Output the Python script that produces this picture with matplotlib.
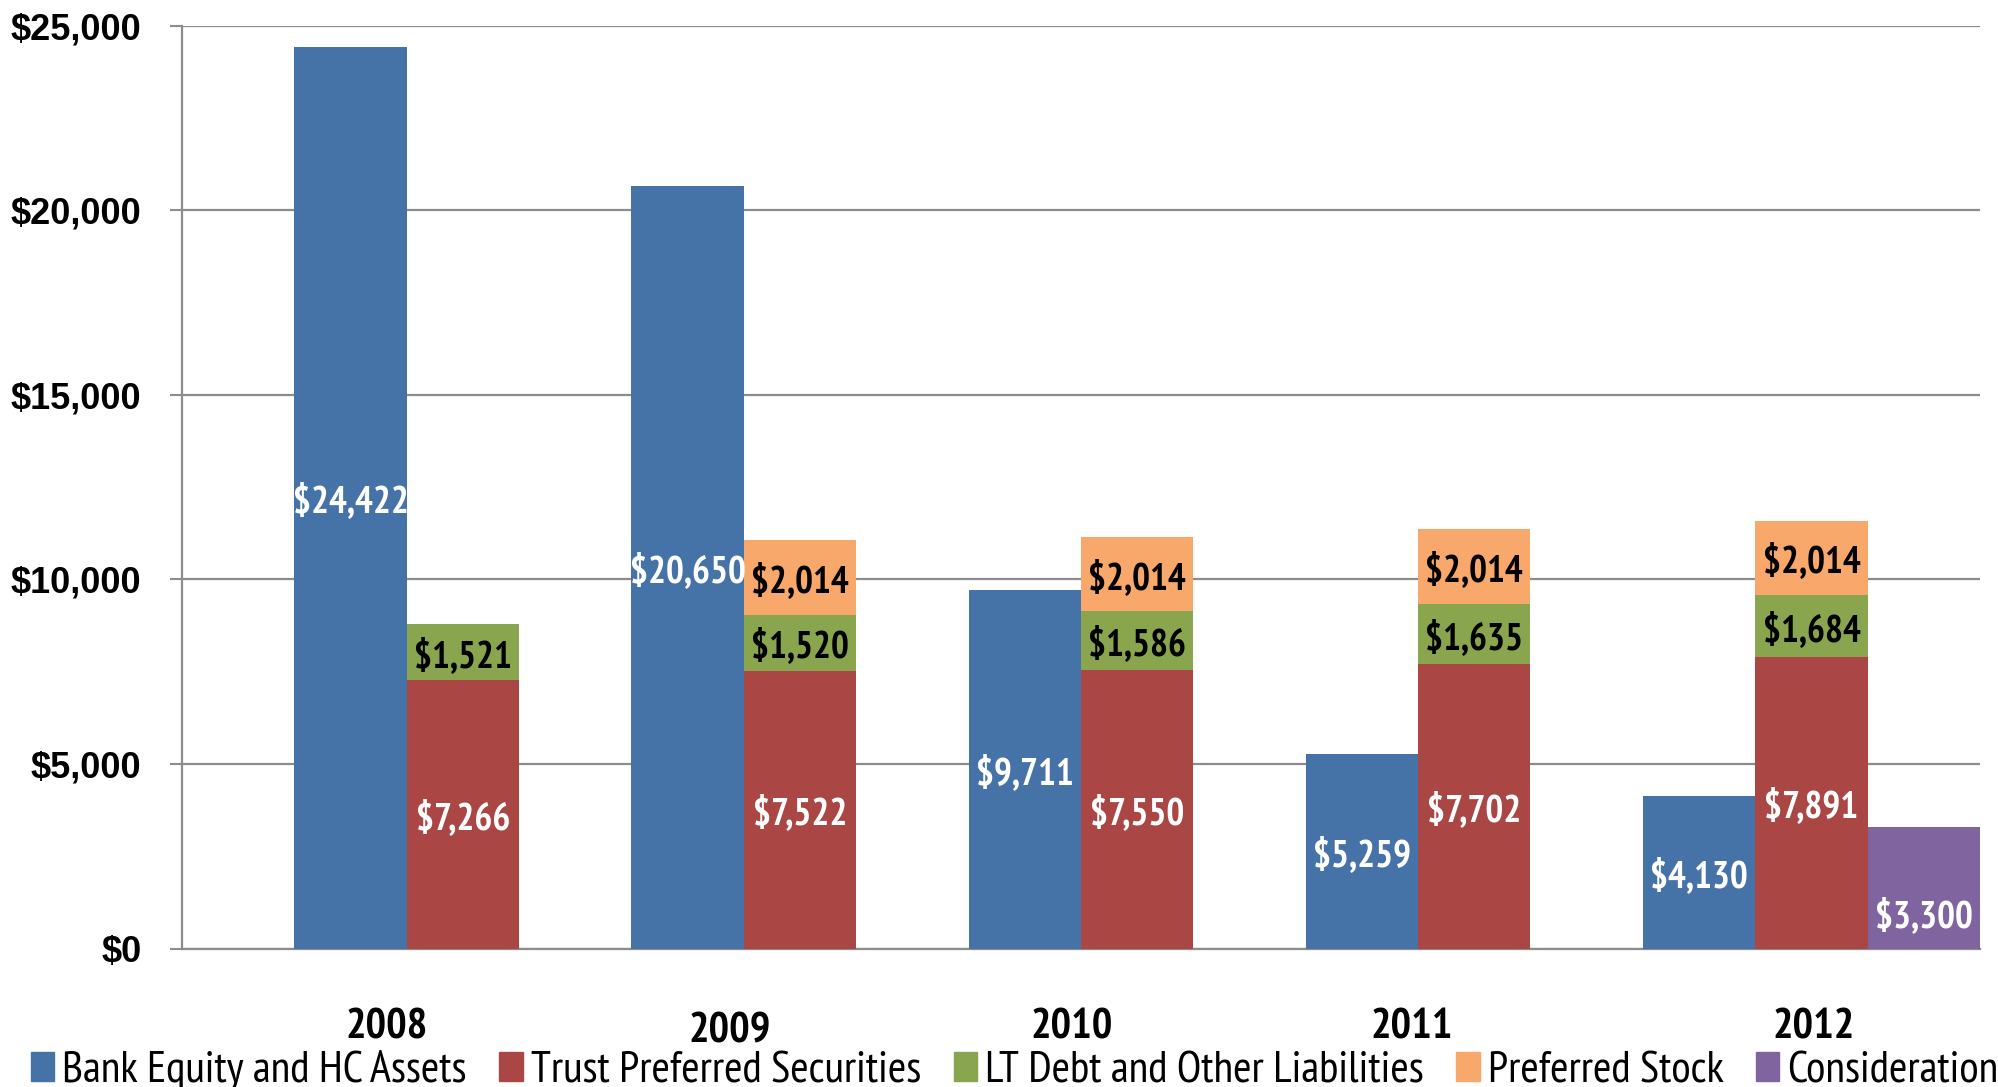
import matplotlib.pyplot as plt
import matplotlib.patches as mpatches
import matplotlib.transforms as mtransforms
import numpy as np

# ---- data ----
years = ["2008", "2009", "2010", "2011", "2012"]
bank_equity = [24422, 20650, 9711, 5259, 4130]
trust_pref = [7266, 7522, 7550, 7702, 7891]
lt_debt = [1521, 1520, 1586, 1635, 1684]
pref_stock = [0, 2014, 2014, 2014, 2014]
consideration = [0, 0, 0, 0, 3300]

series_names = [
    "Bank Equity and HC Assets",
    "Trust Preferred Securities",
    "LT Debt and Other Liabilities",
    "Preferred Stock",
    "Consideration",
]
yticks = [0, 5000, 10000, 15000, 20000, 25000]

colors = ["#4572A7", "#AA4643", "#89A54E", "#F8A86A", "#8064A0"]
NARROW = ["PT Sans Narrow", "Roboto Condensed", "DejaVu Sans"]
BOLD = ["Liberation Sans", "DejaVu Sans"]

fig = plt.figure(figsize=(19.99, 10.87), dpi=100)
ax = fig.add_axes([0.091, 0.1274, 0.8995, 0.8491])

# three slots per year: blue | stacked | purple
mid = np.arange(len(years)) * 3 + 2.5
w = 1.0

red_base = np.zeros(len(years))
green_base = red_base + np.array(trust_pref)
orange_base = green_base + np.array(lt_debt)

b_blue = ax.bar(mid - 1, bank_equity, w, color=colors[0], zorder=3)
b_red = ax.bar(mid, trust_pref, w, bottom=red_base, color=colors[1], zorder=3)
b_green = ax.bar(mid, lt_debt, w, bottom=green_base, color=colors[2], zorder=3)
b_orange = ax.bar(mid, pref_stock, w, bottom=orange_base, color=colors[3], zorder=3)
b_purple = ax.bar(mid + 1, consideration, w, color=colors[4], zorder=3)

lbl = dict(family=NARROW, fontweight="bold", fontsize=27)


def label_center(bars, vals, color):
    # value written in the middle of each segment, nudged a bit down like Excel does
    for rect, v in zip(bars, vals):
        if v <= 0:
            continue
        cx = rect.get_x() + rect.get_width() / 2
        cy = rect.get_y() + rect.get_height() / 2
        ax.annotate(f"${v:,}", xy=(cx, cy), xytext=(0, -3), textcoords="offset points",
                    ha="center", va="center", color=color, zorder=4, **lbl)


label_center(b_blue, bank_equity, "white")
label_center(b_red, trust_pref, "white")
label_center(b_green, lt_debt, "black")
label_center(b_orange, pref_stock, "black")

# consideration label sits near the bar base
for x, v in zip(mid + 1, consideration):
    if v > 0:
        ax.annotate(f"${v:,}", xy=(x, 0), xytext=(0, 23), textcoords="offset points",
                    ha="center", va="center", color="white", zorder=4, **lbl)

ax.set_xlim(0, 16)
ax.set_ylim(0, 25000)
ax.set_yticks(yticks)
ax.set_yticklabels([f"${t:,}" for t in yticks], family=BOLD, fontweight="bold", fontsize=26)
ax.tick_params(axis="y", length=9, width=1.5, color="#8c8c8c", pad=20)
ax.set_xticks([])

ax.yaxis.grid(True, color="#8c8c8c", linewidth=1.6, zorder=0)
ax.set_axisbelow(True)
for s in ["top", "right"]:
    ax.spines[s].set_visible(False)
ax.spines["left"].set_color("#8c8c8c")
ax.spines["left"].set_linewidth(1.6)
ax.spines["bottom"].set_color("#8c8c8c")
ax.spines["bottom"].set_linewidth(1.6)

# year labels (hand-placed text boxes in the original)
year_x = [1.82, 4.87, 7.92, 10.94, 14.52]
year_y = [-0.086, -0.090, -0.086, -0.086, -0.086]
trans = mtransforms.blended_transform_factory(ax.transData, ax.transAxes)
for yr, xx, yy in zip(years, year_x, year_y):
    ax.text(xx, yy, yr, transform=trans, ha="center", va="center",
            family=NARROW, fontweight="bold", fontsize=31)

handles = [mpatches.Patch(color=c) for c in colors]
fig.legend(handles, series_names, loc="center left", bbox_to_anchor=(0.0155, 0.0149),
           ncol=5, frameon=False, borderpad=0, borderaxespad=0,
           handlelength=0.52, handleheight=0.63, handletextpad=0.18, columnspacing=0.74,
           prop=dict(family=NARROW, size=32))

fig.savefig("out.png", dpi=100)
